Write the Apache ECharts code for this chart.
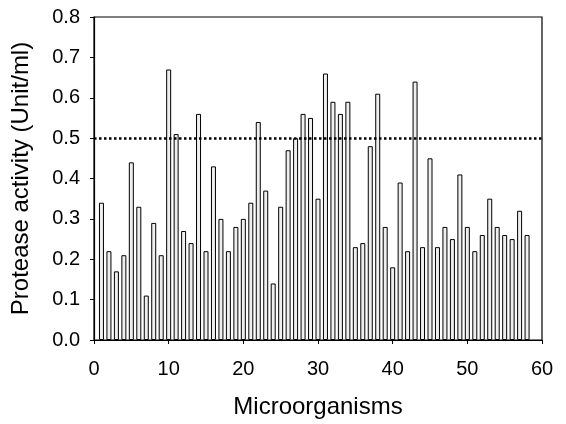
<!DOCTYPE html>
<html><head><meta charset="utf-8">
<script src="https://cdn.jsdelivr.net/npm/echarts@6/dist/echarts.min.js"></script>
<style>html,body{margin:0;padding:0;background:#fff}#c{width:566px;height:424px}</style>
</head><body><div id="c"></div>
<script>
const microorganisms = [1,2,3,4,5,6,7,8,9,10,11,12,13,14,15,16,17,18,19,20,21,22,23,24,25,26,27,28,29,30,31,32,33,34,35,36,37,38,39,40,41,42,43,44,45,46,47,48,49,50,51,52,53,54,55,56,57,58];
const activity = [0.34,0.22,0.17,0.21,0.44,0.33,0.11,0.29,0.21,0.67,0.51,0.27,0.24,0.56,0.22,0.43,0.30,0.22,0.28,0.30,0.34,0.54,0.37,0.14,0.33,0.47,0.50,0.56,0.55,0.35,0.66,0.59,0.56,0.59,0.23,0.24,0.48,0.61,0.28,0.18,0.39,0.22,0.64,0.23,0.45,0.23,0.28,0.25,0.41,0.28,0.22,0.26,0.35,0.28,0.26,0.25,0.32,0.26];
const threshold = 0.5;
const font = 'Liberation Sans, Arial, sans-serif';
const chart = echarts.init(document.getElementById('c'));
chart.setOption({
  animation: false,
  grid: {left: 94, right: 24, top: 17, bottom: 81, show: true, borderColor: '#000', borderWidth: 1.2},
  xAxis: {
    type: 'value', min: 0, max: 60, interval: 10,
    name: 'Microorganisms', nameLocation: 'middle', nameGap: 55,
    nameTextStyle: {fontFamily: font, fontSize: 24, color: '#000'},
    axisLine: {lineStyle: {color: '#000', width: 1.2}},
    axisTick: {show: true, inside: false, length: 4, lineStyle: {color: '#000'}},
    axisLabel: {fontFamily: font, fontSize: 20, color: '#000', margin: 19},
    splitLine: {show: false}
  },
  yAxis: {
    type: 'value', min: 0, max: 0.8, interval: 0.1,
    name: 'Protease activity (Unit/ml)', nameLocation: 'middle', nameGap: 61,
    nameTextStyle: {fontFamily: font, fontSize: 24, color: '#000'},
    axisLine: {show: true, lineStyle: {color: '#000', width: 1.2}},
    axisTick: {show: true, inside: false, length: 4, lineStyle: {color: '#000'}},
    axisLabel: {fontFamily: font, fontSize: 20, color: '#000', margin: 14, formatter: v => v.toFixed(1)},
    splitLine: {show: false}
  },
  series: [{
    type: 'bar',
    data: microorganisms.map((m, i) => [m, activity[i]]),
    barWidth: 5,
    itemStyle: {color: '#efefef', borderColor: '#000', borderWidth: 1},
    markLine: {
      silent: true, symbol: 'none', label: {show: false},
      lineStyle: {color: '#000', type: 'dotted', width: 2.5},
      data: [{yAxis: threshold}]
    }
  }]
});
</script></body></html>
